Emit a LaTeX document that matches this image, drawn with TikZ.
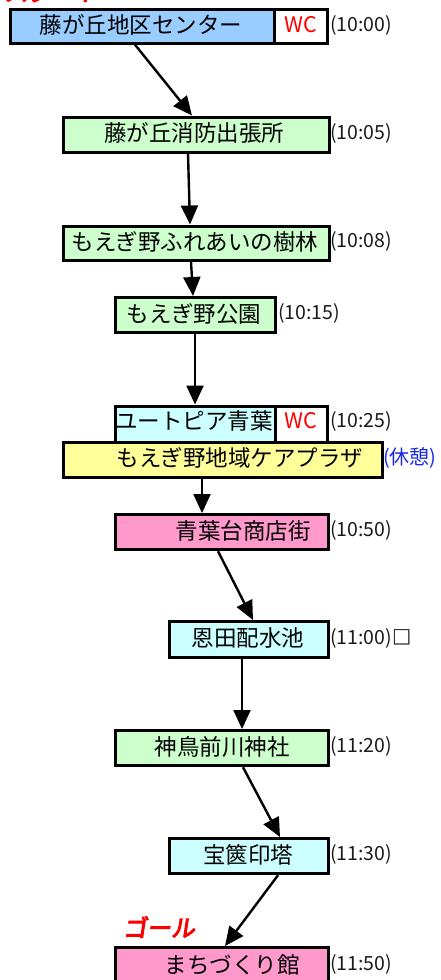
\documentclass[tikz,border=0pt]{standalone}
\usepackage{fontspec}
\setmainfont{Noto Sans CJK JP}
\newfontfamily\heavyjp[FakeBold=4,FakeSlant=0.15]{Noto Sans CJK JP}
\newfontfamily\boldsq[FakeBold=2]{Noto Sans CJK JP}
\usetikzlibrary{arrows.meta}
\definecolor{cblue}{HTML}{99CCFF}
\definecolor{cgreen}{HTML}{CCFFCC}
\definecolor{ccyan}{HTML}{CCFFFF}
\definecolor{cyellow}{HTML}{FFFF99}
\definecolor{cpink}{HTML}{FF99CC}
\definecolor{ctime}{HTML}{1A1A1A}
\begin{document}
\begin{tikzpicture}[x=1pt,y=-1pt,
  box/.style={draw=black,line width=3.2pt,inner sep=0pt},
  lbl/.style={inner sep=0pt,font=\fontsize{22.5}{23}\selectfont,text=black},
  tm/.style={inner sep=0pt,anchor=west,font=\fontsize{19.5}{20}\selectfont,text=ctime},
  wc/.style={inner sep=0pt,font=\fontsize{21.5}{22}\selectfont,text=red},
  arr/.style={line width=2.4pt,-{Triangle[length=19pt,width=17pt]}}]
\useasboundingbox (0,0) rectangle (441,980);
% start sliver
\node[inner sep=0pt,anchor=base west,text=red,font=\heavyjp\fontsize{24}{24}\selectfont] (start) at (4,1) {スタート};
% boxes
\node[box,fill=cblue,minimum width=264.5pt,minimum height=34pt,anchor=north west] (b1) at (8.5,7.5) {};
\node[box,fill=white,minimum width=52.5pt,minimum height=34pt,anchor=north west] (w1) at (273,7.5) {};
\node[lbl] (t1) at (141,25) {藤が丘地区センター};
\node[wc] (c1) at (301,25) {WC};
\node[tm] (m1) at (330,25) {(10:00)};

\node[box,fill=cgreen,minimum width=266pt,minimum height=35pt,anchor=north west] (b2) at (61.5,115.5) {};
\node[lbl] (t2) at (194,133) {藤が丘消防出張所};
\node[tm] (m2) at (330,133) {(10:05)};

\node[box,fill=cgreen,minimum width=266pt,minimum height=34pt,anchor=north west] (b3) at (61.5,224.5) {};
\node[lbl] (t3) at (195,241.5) {もえぎ野ふれあいの樹林};
\node[tm] (m3) at (330,241.5) {(10:08)};

\node[box,fill=cgreen,minimum width=160pt,minimum height=35pt,anchor=north west] (b4) at (114,296) {};
\node[lbl] (t4) at (194,313.5) {もえぎ野公園};
\node[tm] (m4) at (278,313.5) {(10:15)};

\node[box,fill=ccyan,minimum width=159.5pt,minimum height=36pt,anchor=north west] (b5) at (114,404.5) {};
\node[box,fill=white,minimum width=52.5pt,minimum height=36pt,anchor=north west] (w5) at (273.5,404.5) {};
\node[lbl] (t5) at (194,421) {ユートピア青葉};
\node[wc] (c5) at (301,421) {WC};
\node[tm] (m5) at (330,421) {(10:25)};

\node[box,fill=cyellow,minimum width=319pt,minimum height=35pt,anchor=north west] (b6) at (61.5,440.5) {};
\node[lbl] (t6) at (240,458) {もえぎ野地域ケアプラザ};
\node[tm,text={rgb,255:red,20;green,40;blue,230},font=\fontsize{20}{20}\selectfont] (m6) at (383,458) {(休憩)};

\node[box,fill=cpink,minimum width=212.5pt,minimum height=35pt,anchor=north west] (b7) at (114,513) {};
\node[lbl] (t7) at (243,530.5) {青葉台商店街};
\node[tm] (m7) at (330,530.5) {(10:50)};

\node[box,fill=ccyan,minimum width=159pt,minimum height=36pt,anchor=north west] (b8) at (168,620) {};
\node[lbl] (t8) at (248,638) {恩田配水池};
\node[tm] (m8) at (330,638) {(11:00){\boldsq\fontsize{19}{19}\selectfont □}};

\node[box,fill=cgreen,minimum width=212.5pt,minimum height=35pt,anchor=north west] (b9) at (114,729) {};
\node[lbl] (t9) at (222,746.5) {神鳥前川神社};
\node[tm] (m9) at (330,746.5) {(11:20)};

\node[box,fill=ccyan,minimum width=159pt,minimum height=35pt,anchor=north west] (b10) at (168,837) {};
\node[lbl] (t10) at (248,854.5) {宝篋印塔};
\node[tm] (m10) at (330,854.5) {(11:30)};

\node[inner sep=0pt,text=red,font=\heavyjp\fontsize{24}{24}\selectfont] (goal) at (159,927) {ゴール};

\node[box,fill=cpink,minimum width=212.5pt,minimum height=40pt,anchor=north west] (b11) at (114,946) {};
\node[lbl] (t11) at (232,964.5) {まちづくり館};
\node[tm] (m11) at (330,964.5) {(11:50)};

% arrows
\draw[arr] ([xshift=126.5pt]b1.south west) -- ([xshift=130.5pt]b2.north west);
\draw[arr] ([xshift=126.5pt]b2.south west) -- ([xshift=128.5pt]b3.north west);
\draw[arr] ([xshift=129.5pt]b3.south west) -- ([xshift=79pt]b4.north west);
\draw[arr] ([xshift=81pt]b4.south west) -- ([xshift=81pt]b5.north west);
\draw[arr] ([xshift=140.5pt]b6.south west) -- ([xshift=88pt]b7.north west);
\draw[arr] ([xshift=104pt]b7.south west) -- ([xshift=85pt]b8.north west);
\draw[arr] ([xshift=74pt]b8.south west) -- ([xshift=128pt]b9.north west);
\draw[arr] ([xshift=129pt]b9.south west) -- ([xshift=112pt]b10.north west);
\draw[arr] ([xshift=110pt]b10.south west) -- ([xshift=111pt]b11.north west);
\end{tikzpicture}
\end{document}
